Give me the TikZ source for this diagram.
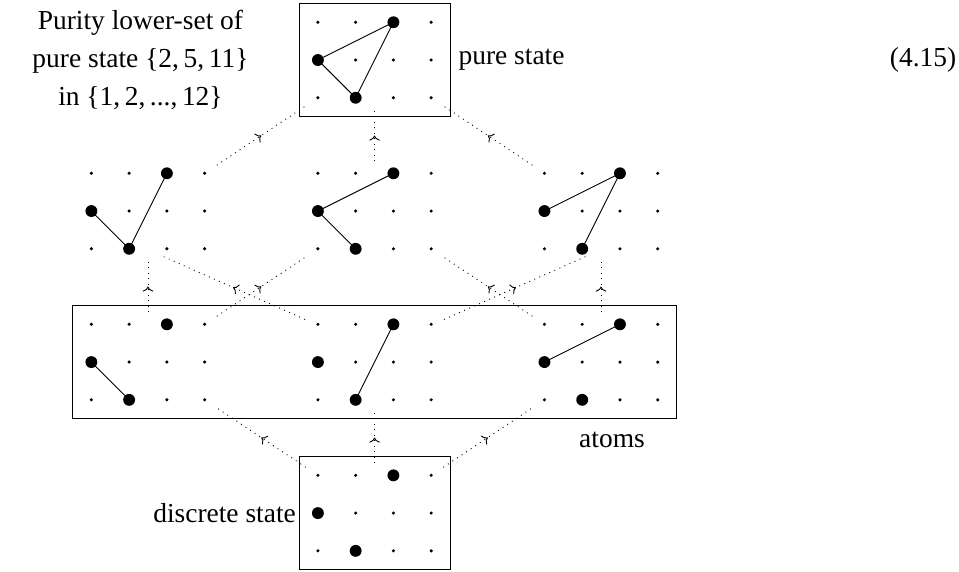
\documentclass[tikz,border=0pt]{standalone}
\usepackage{fontspec}
\setmainfont{Liberation Serif}
\usepackage{tikz}
\usetikzlibrary{arrows.meta,decorations.markings}

\begin{document}
\begin{tikzpicture}[x=0.58cm,y=0.58cm,
  every node/.style={font=\fontsize{12pt}{16.5pt}\selectfont},
  rejilla/.style={rectangle,inner sep=0pt,minimum width=2.1cm,minimum height=1.52cm},
  caja/.style={draw,rectangle,inner sep=0pt,minimum width=2.32cm,minimum height=1.74cm},
  punto/.style={radius=0.75pt},
  bola/.style={radius=2.6pt},
  flecha/.style={dotted,postaction={decorate,decoration={markings,
                 mark=at position 0.5 with {\arrow{To[length=2.2pt,width=4.6pt]}}}}}
]
\useasboundingbox (-9.92,1.59) rectangle (15.48,-13.54);
\foreach \n/\x/\y in {top/0/0,ml/-6/-4,mm/0/-4,mr/6/-4,
                      al/-6/-8,am/0/-8,ar/6/-8,bot/0/-12} {
  \node[rejilla] (\n) at (\x,\y) {};
  \foreach \col in {1,...,4}
    \foreach \fila in {1,2,3}
      \fill[punto] (\x+\col-2.5,\y+2-\fila) coordinate (\n\col\fila) circle;
  \foreach \p in {12,23,31}
    \fill[bola] (\n\p) circle;
}
\node[caja] (ctop) at (0,0) {};
\node[caja,minimum width=9.28cm] (catomos) at (0,-8) {};
\node[caja] (cbot) at (0,-12) {};
\draw (top12) -- (top23) -- (top31) -- cycle;
\draw (ml12) -- (ml23) -- (ml31);
\draw (mm23) -- (mm12) -- (mm31);
\draw (mr12) -- (mr31) -- (mr23);
\draw (al12) -- (al23);
\draw (am23) -- (am31);
\draw (ar12) -- (ar31);
\foreach \a/\b in {ml/top,mm/top,mr/top,al/ml,al/mm,
                   ar/mm,ar/mr,bot/al,bot/am,bot/ar}
  \draw[flecha] (\a) -- (\b);
% the two arrows out of the middle atom run flatter
\draw[flecha] ([shift={(-1.84,1.13)}]am.center) -- ([shift={(0.35,-1.18)}]ml.center);
\draw[flecha] ([shift={(1.84,1.13)}]am.center) -- ([shift={(-0.35,-1.18)}]mr.center);
\node[align=center] (titulo) at (-6.2,0)
  {Purity lower-set of\\pure state \{2,\,5,\,11\}\\in \{1,\,2,\,...,\,12\}};
\node[anchor=west] (puro) at (ctop.east) {pure state};
\node (atomos) at (6.29,-10.07) {atoms};
\node[anchor=east,inner sep=1pt] (discreto) at (cbot.west) {discrete state};
\node[anchor=east] (eq) at (15.62,0) {(4.15)};
\end{tikzpicture}
\end{document}
